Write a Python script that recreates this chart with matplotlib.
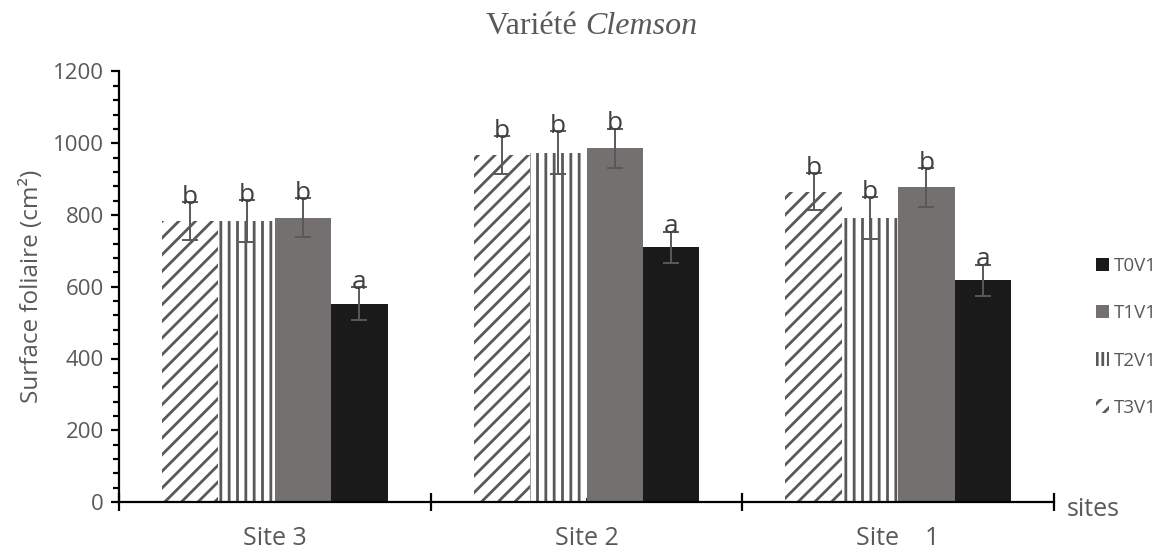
import numpy as np
import matplotlib
matplotlib.use("Agg")
import matplotlib.pyplot as plt
from matplotlib.patches import Patch

sites = ["Site 3", "Site 2", "Site    1"]
treatments = ["T3V1", "T2V1", "T1V1", "T0V1"]

t3_vals = [784, 966, 865]
t2_vals = [784, 973, 792]
t1_vals = [792, 986, 877]
t0_vals = [553, 710, 618]

t3_err = [53, 53, 52]
t2_err = [58, 60, 58]
t1_err = [54, 55, 54]
t0_err = [46, 44, 44]

t3_letters = ["b", "b", "b"]
t2_letters = ["b", "b", "b"]
t1_letters = ["b", "b", "b"]
t0_letters = ["a", "a", "a"]

grey_txt = "#595959"
plt.rcParams["font.family"] = ["Open Sans", "DejaVu Sans"]
plt.rcParams["hatch.linewidth"] = 2.0

fig = plt.figure(figsize=(11.7, 5.54), dpi=100)
ax = fig.add_axes([119 / 1170, 52 / 554, (1054 - 119) / 1170, (502 - 71.5) / 554])

x = np.arange(len(sites))
w = 0.181
series = [
    (t3_vals, t3_err, t3_letters, dict(color="white", edgecolor="#595959", hatch="//")),
    (t2_vals, t2_err, t2_letters, dict(color="white", edgecolor="#595959", hatch="||")),
    (t1_vals, t1_err, t1_letters, dict(color="#757070")),
    (t0_vals, t0_err, t0_letters, dict(color="#1a1a1a")),
]

for i, (vals, errs, letters, style) in enumerate(series):
    pos = x + (i - 1.5) * w
    ax.bar(pos, vals, w, linewidth=0, zorder=2, **style)
    ax.errorbar(pos, vals, yerr=errs, fmt="none", ecolor="#595959",
                elinewidth=1.4, capsize=6, capthick=1.4, zorder=3)
    for p, v, e, lt in zip(pos, vals, errs, letters):
        ax.text(p, v + e - 22, lt, ha="center", va="bottom",
                fontsize=19, color="#404040", zorder=4)

ax.set_xlim(-0.5, 2.5)
ax.set_ylim(0, 1200)
ax.set_yticks(range(0, 1201, 200))
ax.set_yticks(range(0, 1201, 40), minor=True)
ax.set_xticks([-0.5, 0.5, 1.5, 2.5])
ax.set_xticklabels([])
ax.set_xticks(x, minor=True)
ax.set_xticklabels(sites, minor=True)

for s in ["top", "right"]:
    ax.spines[s].set_visible(False)
for s in ["left", "bottom"]:
    ax.spines[s].set_linewidth(1.6)
    ax.spines[s].set_color("black")

ax.tick_params(axis="y", which="major", direction="out", length=6, width=1.6,
               labelsize=16, labelcolor=grey_txt, pad=5)
ax.tick_params(axis="y", which="minor", direction="out", length=4, width=1.6)
ax.tick_params(axis="x", which="major", direction="inout", length=13, width=1.6)
ax.tick_params(axis="x", which="minor", direction="in", length=3, width=1.2,
               labelsize=18, labelcolor=grey_txt, pad=17)

ax.set_ylabel("Surface foliaire (cm²)", fontsize=17.5, color=grey_txt, labelpad=6)
fig.text(1067 / 1170, 1 - 510 / 554, "sites", fontsize=18, color=grey_txt,
         ha="left", va="center")

fig.text(0.5, 1 - 27 / 554, "Variété ", fontsize=23, color=grey_txt,
         family="Liberation Serif", ha="right", va="center")
fig.text(0.5, 1 - 27 / 554, "Clemson", fontsize=23, color=grey_txt,
         family="Liberation Serif", style="italic", ha="left", va="center")

handles = [
    Patch(facecolor="#1a1a1a", label="T0V1"),
    Patch(facecolor="#757070", label="T1V1"),
    Patch(facecolor="white", edgecolor="#595959", linewidth=0, hatch="|||", label="T2V1"),
    Patch(facecolor="white", edgecolor="#595959", linewidth=0, hatch="//", label="T3V1"),
]
leg = fig.legend(handles=handles, loc="center left", bbox_to_anchor=(1092 / 1170, 1 - 337 / 554),
                 frameon=False, fontsize=13.5, handlelength=0.7, handleheight=0.7,
                 handletextpad=0.25, labelspacing=1.55, labelcolor=grey_txt,
                 borderaxespad=0, borderpad=0.2)

fig.savefig("out.png", dpi=100)
